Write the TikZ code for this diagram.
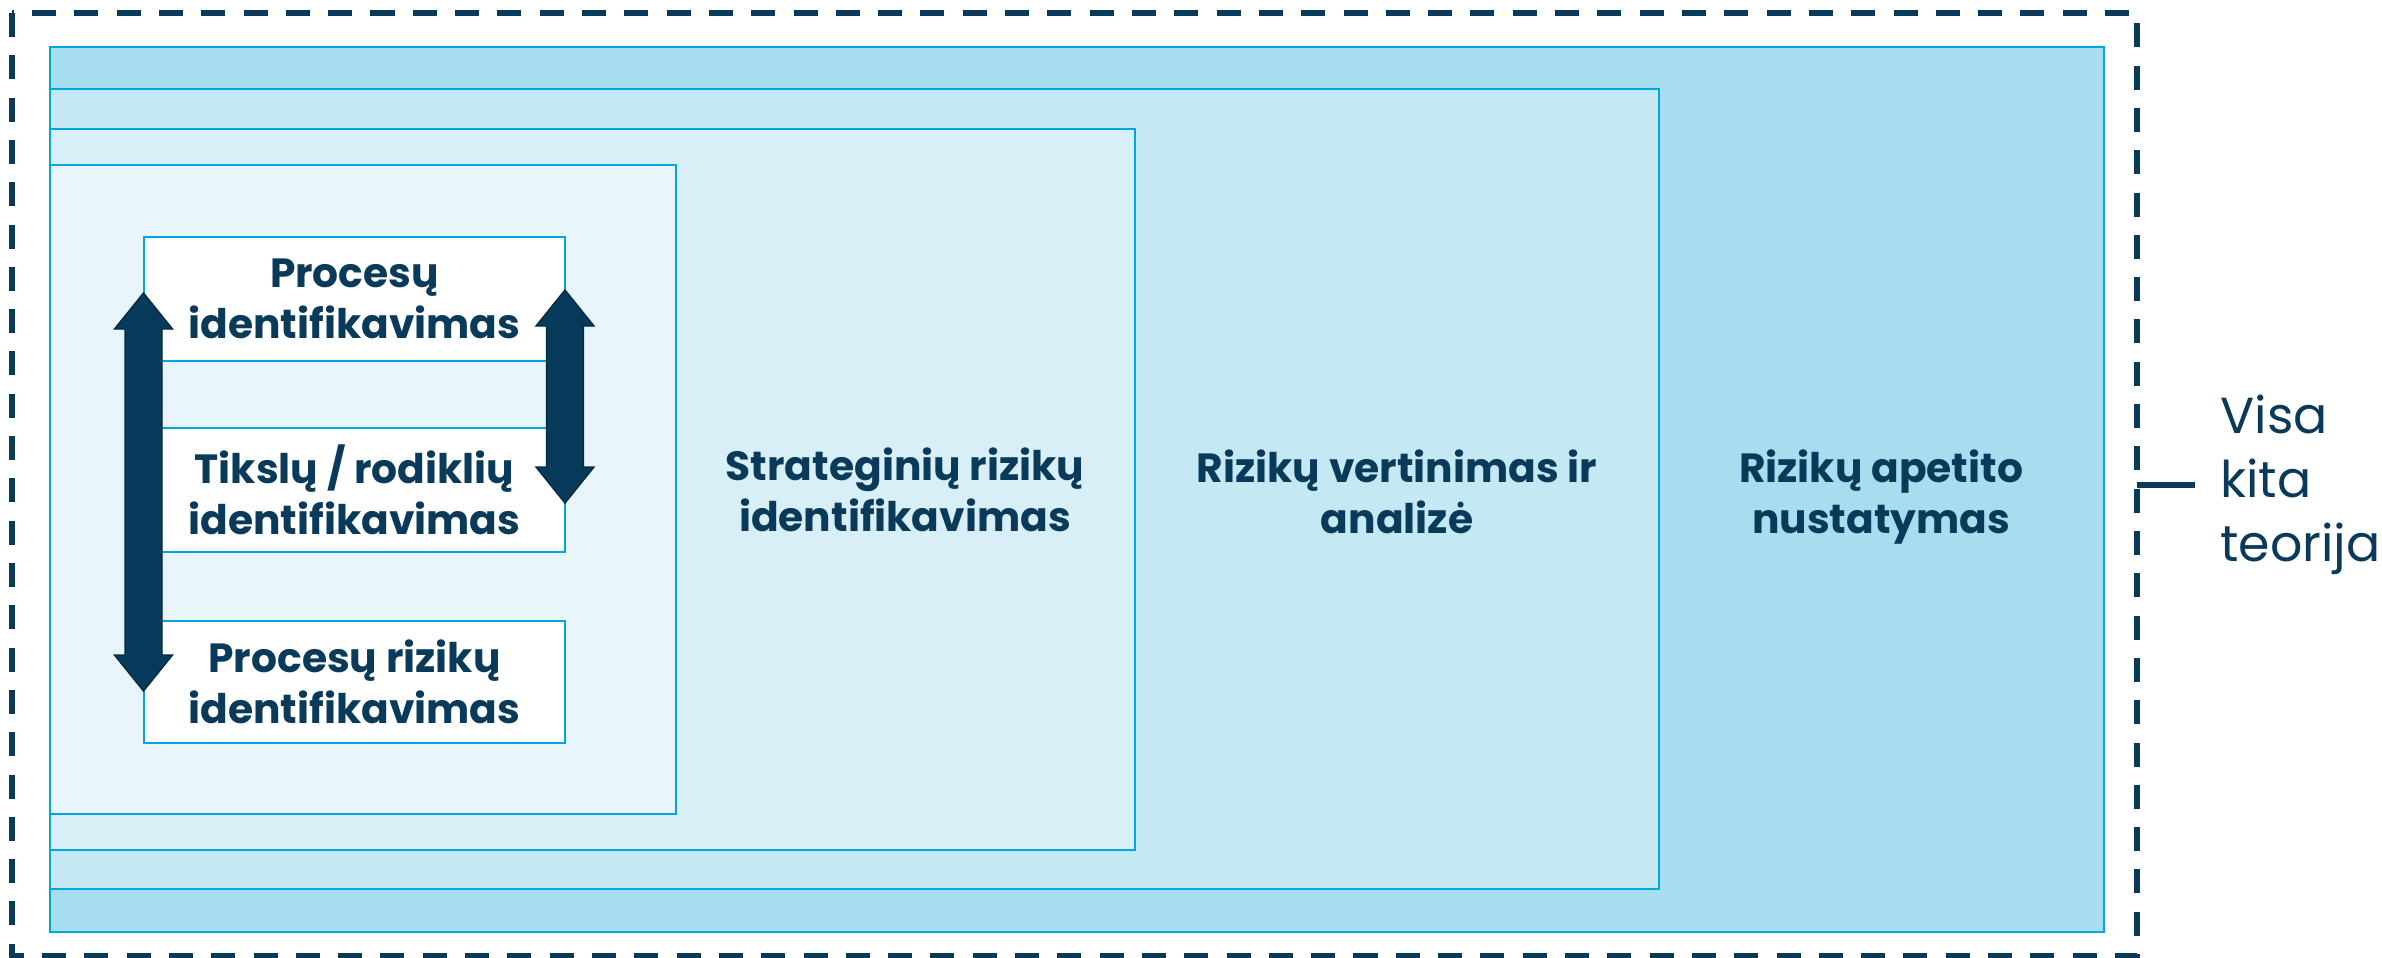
\documentclass[tikz,border=0pt]{standalone}
\usepackage{fontspec}
\setmainfont{Poppins}
\usetikzlibrary{calc}
\definecolor{navy}{HTML}{0A3A5A}
\definecolor{cyanline}{HTML}{00A6E0}
\definecolor{fillA}{HTML}{A6DEEF}
\definecolor{fillB}{HTML}{C4E8F4}
\definecolor{fillC}{HTML}{D8EFF7}
\definecolor{fillD}{HTML}{E8F6FC}
\definecolor{arrowc}{HTML}{073A5B}
\newcommand{\dblarrow}[2]{%
  \filldraw[blockarrow] (#1) -- ($(#1)+(29,36)$) -- ($(#1)+(18.5,36)$) -- ($(#2)+(18.5,-36)$) -- ($(#2)+(29,-36)$) -- (#2) -- ($(#2)+(-29,-36)$) -- ($(#2)+(-18.5,-36)$) -- ($(#1)+(-18.5,36)$) -- ($(#1)+(-29,36)$) -- cycle;}
\begin{document}
\begin{tikzpicture}[x=0.01cm,y=-0.01cm,
  layer/.style={draw=cyanline, line width=0.7pt},
  procbox/.style={draw=cyanline, line width=0.5pt, fill=white, minimum width=4.21cm, minimum height=1.24cm, inner sep=0pt, align=center, font=\bfseries\fontsize{11.6}{14.5}\selectfont, text=navy},
  lbl/.style={align=center, font=\bfseries\fontsize{11.6}{14.5}\selectfont, text=navy},
  blockarrow/.style={fill=arrowc, draw=arrowc!70!black, line width=0.4pt},
  outerdash/.style={draw=navy, line width=1.56pt, dash pattern=on 6.83pt off 5.2pt},
  side/.style={align=left, font=\fontsize{14.4}{18.2}\selectfont, text=navy, anchor=west, inner xsep=7pt, inner ysep=0pt}]
\useasboundingbox (0,0) rectangle (2382,957);
% outer dashed frame
\draw[outerdash] (12,13) rectangle (2137,956);
% nested layers
\filldraw[layer, fill=fillA] (50,47) rectangle (2104,932);
\filldraw[layer, fill=fillB] (50,89) rectangle (1659,889);
\filldraw[layer, fill=fillC] (50,129) rectangle (1135,850);
\filldraw[layer, fill=fillD] (50,165) rectangle (676,814);
% inner boxes
\node[procbox] (pa) at (354.5,299) {Procesų\\identifikavimas};
\node[procbox] (pb) at (354.5,490) {Tikslų / rodiklių\\identifikavimas};
\node[procbox, minimum height=1.22cm] (pc) at (354.5,682) {Procesų rizikų\\identifikavimas};
% layer labels
\node[lbl] (ls) at (905,490) {Strateginių rizikų\\identifikavimas};
\node[lbl] (lv) at (1397,492) {Rizikų vertinimas ir\\analizė};
\node[lbl] (la) at (1881,497) {Rizikų apetito\\nustatymas};
% arrows
\coordinate (L1) at (143.5,293);
\coordinate (L2) at (143.5,691);
\coordinate (R1) at (565,290);
\coordinate (R2) at (565,503);
\dblarrow{L1}{L2}
\dblarrow{R1}{R2}
% side label
\coordinate (dashR) at (2137,485);
\node[side] (vkt) at (2195,485) {Visa\\kita\\teorija};
\draw[navy, line width=1.7pt] (dashR) -- (vkt.west);
\end{tikzpicture}
\end{document}
